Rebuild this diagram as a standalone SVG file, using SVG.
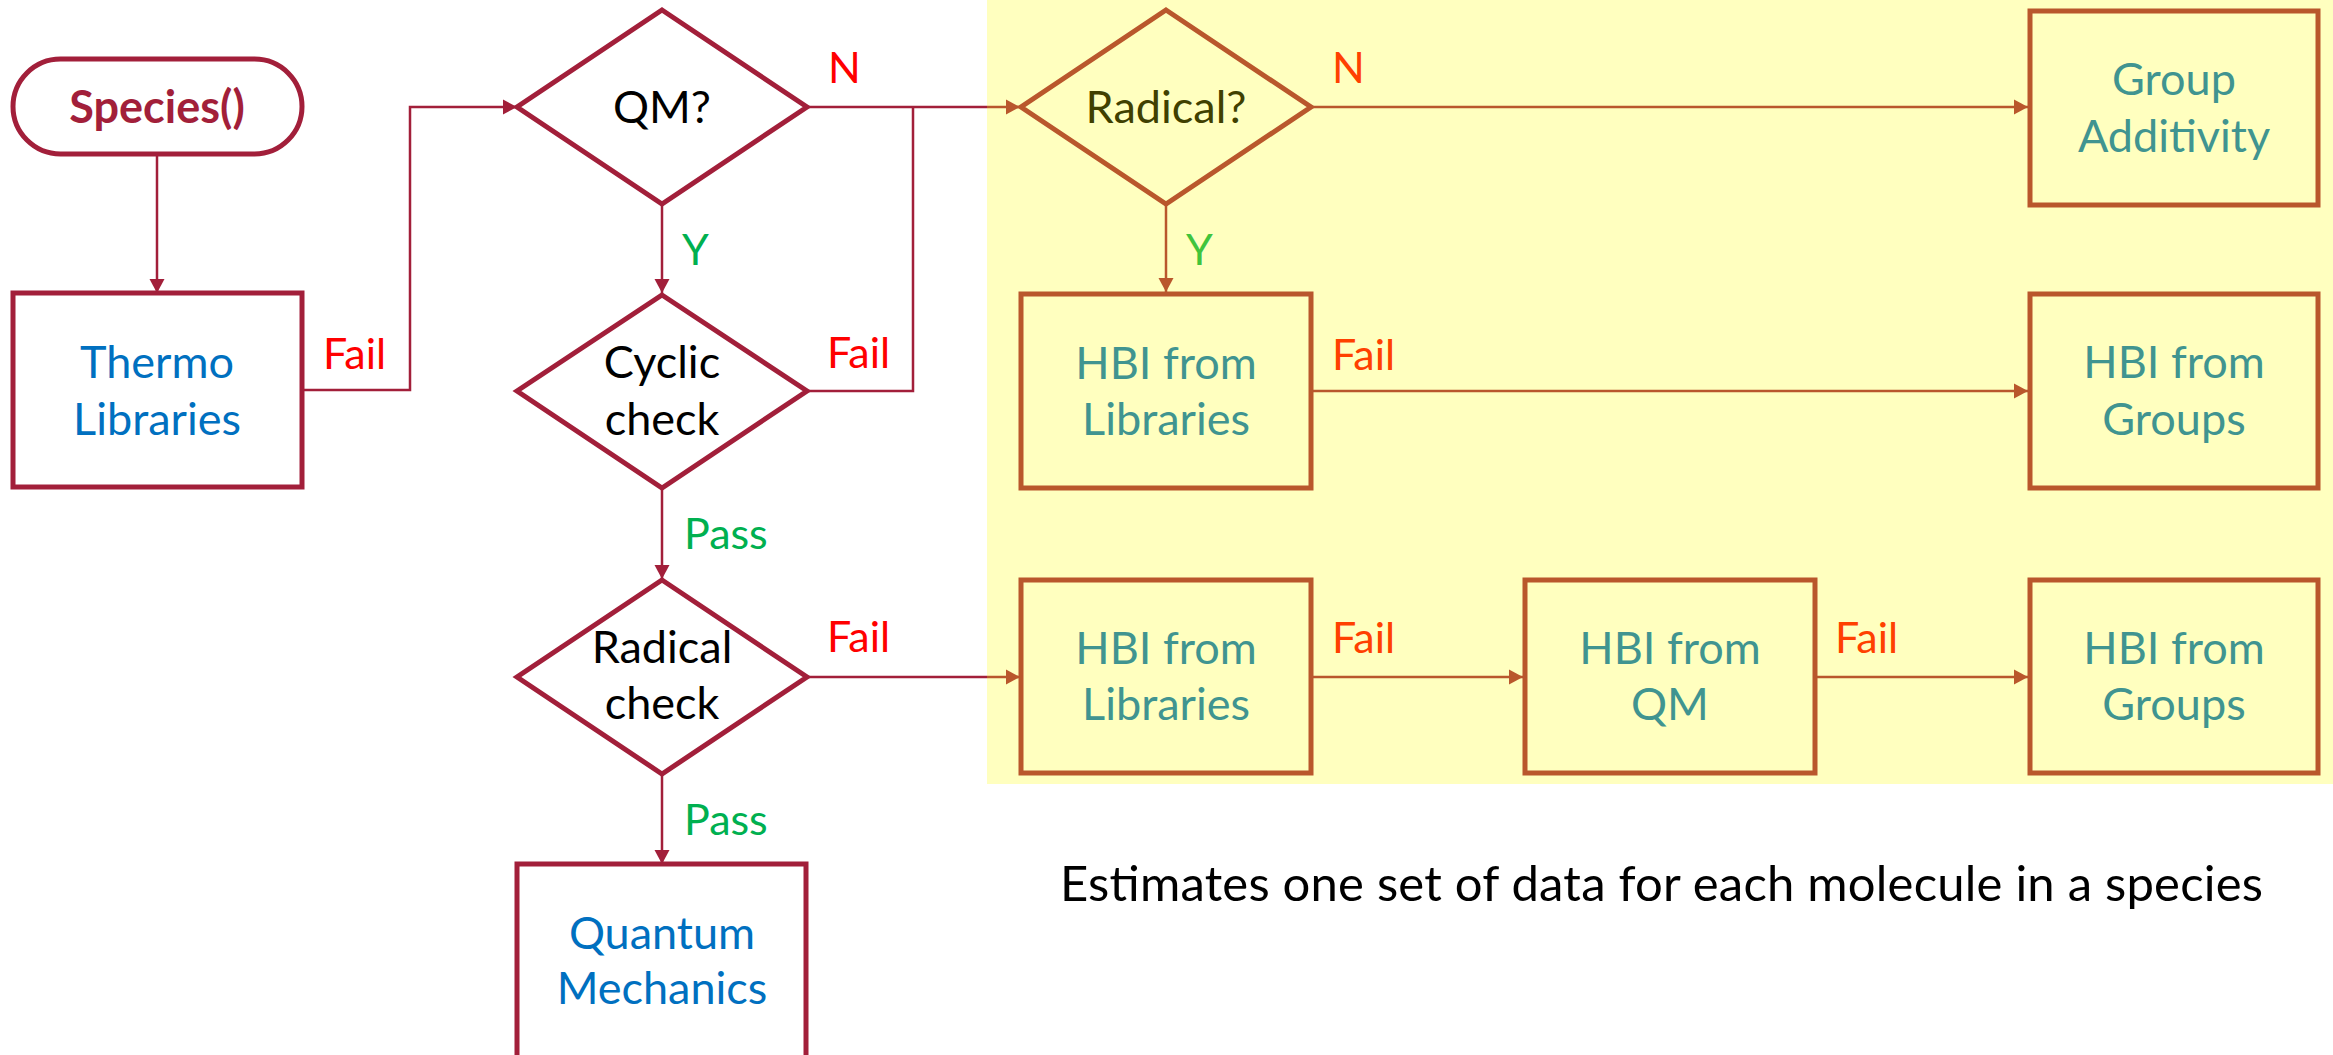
<svg xmlns="http://www.w3.org/2000/svg" width="2333" height="1055" viewBox="0 0 2333 1055">
<defs>
<marker id="ah" markerUnits="userSpaceOnUse" markerWidth="16" markerHeight="16" viewBox="0 0 14 16" refX="14" refY="8" orient="auto">
<path d="M0,0.5 L14,8 L0,15.5 Z" fill="#A21F3A"/>
</marker>
<marker id="ahy" markerUnits="userSpaceOnUse" markerWidth="16" markerHeight="16" viewBox="0 0 14 16" refX="14" refY="8" orient="auto">
<path d="M0,0.5 L14,8 L0,15.5 Z" fill="#B9572C"/>
</marker>
</defs>
<style>
text { font-family: Lato, "Open Sans", "Liberation Sans", sans-serif; font-size: 43px; }
.n { fill: #FFFFFF; stroke: #A21F3A; stroke-width: 5; }
.ny { fill: #FFFFBF; stroke: #B9572C; stroke-width: 5; }
.c { fill: none; stroke: #A21F3A; stroke-width: 2.5; }
.cy { fill: none; stroke: #B9572C; stroke-width: 2.5; }
.t, .tb, .ty, .tk, .ts { text-anchor: middle; font-size: 45px; }
.t { fill: #000000; }
.tb { fill: #0070C0; }
.ty { fill: #409490; }
.tk { fill: #404000; }
.ts { fill: #A21F3A; font-weight: bold; }
.red { fill: #FF0000; }
.redy { fill: #FF4000; }
.grn { fill: #00B050; }
.grny { fill: #40C43C; }
.note { fill: #000000; font-size: 49px; }
</style>
<rect x="0" y="0" width="2333" height="1055" fill="#FFFFFF"/>
<rect id="yellow-region" x="987" y="0" width="1346" height="784" fill="#FFFFBF"/>

<g id="connectors">
<path class="c" d="M157,154 L157,293" marker-end="url(#ah)"/>
<path class="c" d="M302,390 L410,390 L410,107 L517,107" marker-end="url(#ah)"/>
<path class="c" d="M662,205 L662,293" marker-end="url(#ah)"/>
<path class="c" d="M807,107 L987,107"/>
<path class="cy" d="M987,107 L1020,107" marker-end="url(#ahy)"/>
<path class="c" d="M807,391 L913,391 L913,107"/>
<path class="c" d="M662,489 L662,579" marker-end="url(#ah)"/>
<path class="c" d="M807,677 L987,677"/>
<path class="cy" d="M987,677 L1020,677" marker-end="url(#ahy)"/>
<path class="c" d="M662,775 L662,864" marker-end="url(#ah)"/>
<path class="cy" d="M1311,107 L2028,107" marker-end="url(#ahy)"/>
<path class="cy" d="M1166,205 L1166,292" marker-end="url(#ahy)"/>
<path class="cy" d="M1311,391 L2028,391" marker-end="url(#ahy)"/>
<path class="cy" d="M1311,677 L1523,677" marker-end="url(#ahy)"/>
<path class="cy" d="M1815,677 L2028,677" marker-end="url(#ahy)"/>
</g>

<g id="labels">
<text class="red" x="323" y="369">Fail</text>
<text class="red" x="828" y="83">N</text>
<text class="grn" x="682" y="265">Y</text>
<text class="red" x="827" y="368">Fail</text>
<text class="grn" x="684" y="549">Pass</text>
<text class="red" x="827" y="652">Fail</text>
<text class="grn" x="684" y="835">Pass</text>
<text class="redy" x="1332" y="83">N</text>
<text class="grny" x="1186" y="265">Y</text>
<text class="redy" x="1332" y="370">Fail</text>
<text class="redy" x="1332" y="653">Fail</text>
<text class="redy" x="1835" y="653">Fail</text>
</g>

<g id="species">
<rect class="n" x="13" y="59" width="289" height="95" rx="47.5"/>
<text class="ts" x="157" y="123">Species()</text>
</g>
<g id="thermo-libraries">
<rect class="n" x="13" y="293" width="289" height="194"/>
<text class="tb" x="157" y="378">Thermo</text>
<text class="tb" x="157" y="435">Libraries</text>
</g>
<g id="qm">
<polygon class="n" points="662,10 807,107 662,204 517,107"/>
<text class="t" x="662" y="123">QM?</text>
</g>
<g id="cyclic-check">
<polygon class="n" points="662,295 807,391 662,488 517,391"/>
<text class="t" x="662" y="378">Cyclic</text>
<text class="t" x="662" y="435">check</text>
</g>
<g id="radical-check">
<polygon class="n" points="662,580 807,677 662,774 517,677"/>
<text class="t" x="662" y="663">Radical</text>
<text class="t" x="662" y="719">check</text>
</g>
<g id="quantum-mechanics">
<rect class="n" x="517" y="864" width="289" height="194"/>
<text class="tb" x="662" y="949">Quantum</text>
<text class="tb" x="662" y="1004">Mechanics</text>
</g>
<g id="radical">
<polygon class="ny" points="1166,10 1311,107 1166,204 1021,107"/>
<text class="tk" x="1166" y="123">Radical?</text>
</g>
<g id="group-additivity">
<rect class="ny" x="2030" y="11" width="288" height="194"/>
<text class="ty" x="2174" y="95">Group</text>
<text class="ty" x="2174" y="152">Additivity</text>
</g>
<g id="hbi-libraries-1">
<rect class="ny" x="1021" y="294" width="290" height="194"/>
<text class="ty" x="1166" y="379">HBI from</text>
<text class="ty" x="1166" y="435">Libraries</text>
</g>
<g id="hbi-groups-1">
<rect class="ny" x="2030" y="294" width="288" height="194"/>
<text class="ty" x="2174" y="378">HBI from</text>
<text class="ty" x="2174" y="435">Groups</text>
</g>
<g id="hbi-libraries-2">
<rect class="ny" x="1021" y="580" width="290" height="193"/>
<text class="ty" x="1166" y="664">HBI from</text>
<text class="ty" x="1166" y="720">Libraries</text>
</g>
<g id="hbi-qm">
<rect class="ny" x="1525" y="580" width="290" height="193"/>
<text class="ty" x="1670" y="664">HBI from</text>
<text class="ty" x="1670" y="720">QM</text>
</g>
<g id="hbi-groups-2">
<rect class="ny" x="2030" y="580" width="288" height="193"/>
<text class="ty" x="2174" y="664">HBI from</text>
<text class="ty" x="2174" y="720">Groups</text>
</g>
<text class="note" x="1060" y="901" textLength="1203">Estimates one set of data for each molecule in a species</text>
</svg>
